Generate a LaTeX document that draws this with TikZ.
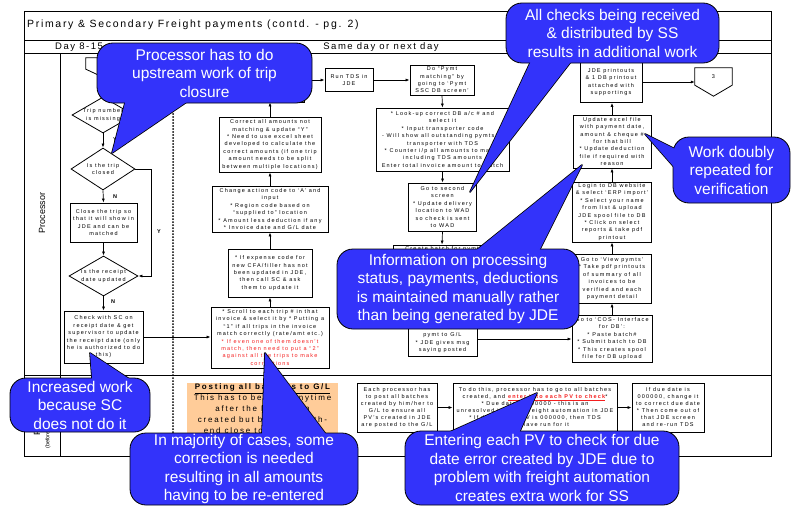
\documentclass[tikz,border=0pt]{standalone}
\usepackage{fontspec}
\setmainfont{Liberation Sans}
\newfontfamily\bxf[LetterSpace=22]{Liberation Sans}
\newfontfamily\ttlf[LetterSpace=16]{Liberation Sans}
\usetikzlibrary{arrows.meta,shapes.geometric,calc}
\definecolor{cblue}{RGB}{51,51,250}
\definecolor{peach}{RGB}{255,204,153}
\definecolor{warnred}{RGB}{245,30,30}

\begin{document}
\begin{tikzpicture}[x=1pt,y=-1pt,
  bx/.style={draw=black, line width=0.8pt, fill=white, inner sep=0pt},
  lbl/.style={align=center, inner sep=0pt, font=\bxf\fontsize{5.5}{7.4}\selectfont},
  lblb/.style={align=center, inner sep=0pt, font=\bxf\fontsize{5.5}{7}\selectfont},
  dia/.style={draw=black, line width=0.8pt, fill=white, diamond, inner sep=0pt},
  arr/.style={draw=black, line width=0.7pt, -{Latex[length=4pt,width=3pt]}},
  yn/.style={font=\bxf\bfseries\fontsize{5.5}{6}\selectfont, inner sep=0pt},
  lane/.style={draw=black, line width=0.9pt},
  cbox/.style={fill=cblue, draw=black, line width=0.8pt, rounded corners=16pt, inner sep=0pt},
  ctail/.style={fill=cblue, draw=black, line width=1.6pt, line join=round},
  ctext/.style={align=center, text=white, inner sep=0pt, font=\fontsize{15.5}{18.5}\selectfont}
]
\useasboundingbox (0,0) rectangle (792,506);
\fill[white] (0,0) rectangle (792,506);

% ---- frame and swim lanes ----
\draw[lane] (24,11) rectangle (771,456);
\draw[lane] (24,40) -- (771,40);
\draw[lane] (24,53) -- (771,53);
\draw[lane] (60,53) -- (60,456);
\draw[lane] (24,375) -- (771,375);
\draw[line width=2pt, line cap=round, dash pattern=on 0pt off 3pt] (173,54) -- (173,432);

\node[anchor=west, inner sep=0pt, font=\ttlf\fontsize{10.5}{12}\selectfont] (title) at (27,25)
  {Primary \& Secondary Freight payments (contd. - pg. 2)};
\node[anchor=west, inner sep=0pt, font=\ttlf\fontsize{9.5}{11}\selectfont] (day1) at (55,47) {Day 8-15};
\node[inner sep=0pt, font=\ttlf\fontsize{9.5}{11}\selectfont] (day2) at (381,47) {Same day or next day};

\node[rotate=90, inner sep=0pt, font=\fontsize{9}{10}\selectfont] (lane1) at (42,213) {Processor};
\node[rotate=90, inner sep=0pt, font=\fontsize{9}{10}\selectfont] (lane2) at (37,415) {Processor};
\node[rotate=90, inner sep=0pt, font=\fontsize{5.5}{6}\selectfont] (lane2b) at (48,418) {(before month-end close)};

% ---- left column: trip checks ----
\node[inner sep=0pt, minimum width=34, minimum height=11] (p2) at (103,63.5) {};
\draw[line width=0.8pt, fill=white] (p2.south west) -- (p2.north west) -- (p2.north east) -- (p2.south east) -- ($(p2.south)+(0,8)$) -- cycle;
\coordinate (p2tip) at ($(p2.south)+(0,8)$);

\node[dia, minimum width=62, minimum height=36, label={[lbl]center:{Trip number\\is missing}}] (d1) at (103,115) {};
\node[dia, minimum width=64, minimum height=42, label={[lbl]center:{Is the trip\\closed}}] (d2) at (103,169) {};
\node[bx, minimum width=67, minimum height=39, label={[lbl]center:{Close the trip so\\that it will show in\\JDE and can be\\matched}}] (b1) at (103.5,222.5) {};
\node[dia, minimum width=69, minimum height=40, label={[lbl]center:{Is the receipt\\date updated}}] (d3) at (103.5,276) {};
\node[bx, minimum width=79, minimum height=52, label={[lbl]center:{Check with SC on\\receipt date \& get\\supervisor to update\\the receipt date (only\\he is authorized to do\\this)}}] (b2) at (103.5,337) {};

\draw[arr] (p2tip) -- (d1.north);
\draw[arr] (d1.south) -- (d2.north);
\draw[arr] (d2.south) -- (b1.north);
\draw[arr] (d2.east) -- ++(16,0) |- (d3.east);
\draw[arr] (b1.south) -- (d3.north);
\draw[arr] (d3.south) -- (b2.north);
\node[yn] (y1) at (115,140) {Y};
\node[yn] (n1) at (115,197) {N};
\node[yn] (y2) at (159,232) {Y};
\node[yn] (n2) at (113,302) {N};

% ---- second column: invoice corrections ----
\node[bx, minimum width=118, minimum height=61, label={[lbl]center:{* Scroll to each trip \# in that\\invoice \& select it by * Putting a\\“1” if all trips in the invoice\\match correctly (rate/amt etc.)\\\textcolor{warnred}{* If even one of them doesn’t}\\\textcolor{warnred}{match, then need to put a “2”}\\\textcolor{warnred}{against all the trips to make}\\\textcolor{warnred}{corrections}}}] (s1) at (270,337.5) {};
\node[bx, minimum width=84, minimum height=48, label={[lbl]center:{* If expense code for\\new CFA/filler has not\\been updated in JDE,\\then call SC \& ask\\them to update it}}] (s2) at (270,273) {};
\node[bx, minimum width=116, minimum height=46, label={[lbl]center:{Change action code to ‘A’ and\\input\\* Region code based on\\“supplied to” location\\* Amount less deduction if any\\* Invoice date and G/L date}}] (s3) at (270,209) {};
\node[bx, minimum width=102, minimum height=55, label={[lbl]center:{Correct all amounts not\\matching \& update “Y”\\* Need to use excel sheet\\developed to calculate the\\correct amounts (if one trip\\amount needs to be split\\between multiple locations)}}] (s4) at (270,144.5) {};
\node[bx, minimum width=68, minimum height=44] (s5) at (270,80) {};

\draw[arr] (b2.east) -- (b2.east -| s1.west);
\draw[arr] (s1.north) -- (s2.south);
\draw[arr] (s2.north) -- (s3.south);
\draw[arr] (s3.north) -- (s4.south);
\draw[arr] (s4.north) -- (s5.south);

% ---- third column: payment matching ----
\node[bx, minimum width=48, minimum height=23, label={[lbl]center:{Run TDS in\\JDE}}] (t1) at (349,80) {};
\node[bx, minimum width=64, minimum height=30, label={[lbl]center:{Do “Pymt\\matching” by\\going to ‘Pymt\\SSC DB screen’}}] (t2) at (442,80) {};
\node[bx, minimum width=133, minimum height=63, label={[lbl]center:{* Look-up correct DB a/c \# and\\select it\\* Input transporter code\\- Will show all outstanding pymts to\\transporter with TDS\\* Counter i/p all amounts to match\\including TDS amounts\\Enter total invoice amount to match}}] (t3) at (442.5,139.5) {};
\node[bx, minimum width=68, minimum height=48, label={[lbl]center:{Go to second\\screen\\* Update delivery\\location to WAD\\so check is sent\\to WAD}}] (t4) at (442.5,207) {};
\node[bx, minimum width=98, minimum height=45, label={[lbl, anchor=north, yshift=-1.5pt]north:{Create batch for pymt}}] (t5) at (442,267.5) {};
\node[bx, minimum width=69, minimum height=34, label={[lbl]center:{* Post the batch of\\pymt to G/L\\* JDE gives msg\\saying posted}}] (t6) at (442.5,339) {};

\draw[arr] (s5.east) -- (s5.east -| t1.west);
\draw[arr] (t1.east) -- (t2.west);
\draw[arr] (t2.south) -- (t3.north);
\draw[arr] (t3.south) -- (t4.north);
\draw[arr] (t4.south) -- (t5.north);
\draw[arr] (t5.south) -- (t6.north);

% ---- fourth column: DB upload and verification ----
\node[bx, minimum width=80, minimum height=47, label={[lbl]center:{Go to ‘COS- Interface\\for DB’:\\* Paste batch\#\\* Submit batch to DB\\* This creates spool\\file for DB upload}}] (c1) at (612,338.5) {};
\node[bx, minimum width=78, minimum height=49, label={[lbl]center:{Go to ‘View pymts’\\* Take pdf printouts\\of summary of all\\invoices to be\\verified and each\\payment detail}}] (c2) at (612,278.5) {};
\node[bx, minimum width=79, minimum height=60, label={[lbl]center:{Login to DB website\\\& select ‘ERP import’\\* Select your name\\from list \& upload\\JDE spool file to DB\\* Click on select\\reports \& take pdf\\printout}}] (c3) at (612,212) {};
\node[bx, minimum width=78, minimum height=53, label={[lbl]center:{Update excel file\\with payment date,\\amount \& cheque \#\\for that bill\\* Update deduction\\file if required with\\reason}}] (c4) at (612,141.5) {};
\node[bx, minimum width=62, minimum height=41, label={[lbl]center:{JDE printouts\\\& 1 DB printout\\attached with\\supportings}}] (c5) at (611,82) {};
\node[inner sep=0pt, minimum width=37, minimum height=17, font=\bxf\fontsize{5.5}{6}\selectfont] (p3) at (713.5,76.5) {3};
\draw[line width=0.8pt] (p3.south west) -- (p3.north west) -- (p3.north east) -- (p3.south east) -- ($(p3.south)+(0,11)$) -- cycle;

\draw[arr] (t6.east) -- (t6.east -| c1.west);
\draw[arr] (c1.north) -- (c2.south);
\draw[arr] (c2.north) -- (c3.south);
\draw[arr] (c3.north) -- (c4.south);
\draw[arr] (c4.north) -- (c4.north |- c5.south);
\draw[arr] (c5.east) -- (c5.east -| p3.west);

% ---- lower lane: posting to G/L ----
\node[inner sep=0pt, fill=peach, minimum width=151, minimum height=62, label={[align=center, inner sep=0pt, anchor=north, yshift=-1pt, font=\bxf\fontsize{8}{11}\selectfont]north:{\textbf{\underline{Posting all batches to G/L}}\\This has to be done anytime\\after the PV’s been\\created but before month-\\end close to ensure it is}}] (o1) at (262.5,414) {};
\node[bx, minimum width=80, minimum height=49, label={[lblb]center:{Each processor has\\to post all batches\\created by him/her to\\G/L to ensure all\\PV’s created in JDE\\are posted to the G/L}}] (e1) at (397,407.5) {};
\node[bx, minimum width=164, minimum height=49, label={[lblb]center:{To do this, processor has to go to all batches\\created, and \textcolor{warnred}{\textbf{\underline{enter into each PV to check}}}*\\* Due date is 000000 - this is an\\unresolved issue of freight automation in JDE\\* If due date of PV is 000000, then TDS\\might have run for it}}] (e2) at (535,407.5) {};
\node[bx, minimum width=72, minimum height=49, label={[lblb]center:{If due date is\\000000, change it\\to correct due date\\* Then come out of\\that JDE screen\\and re-run TDS}}] (e3) at (668,407.5) {};
\draw[arr] (e1.east) -- (e2.west);
\draw[arr] (e2.east) -- (e3.west);

% ---- callouts ----
% upstream trip closure
\draw[ctail] (127,95) -- (112,153) -- (197,95) -- cycle;
\node[cbox, minimum width=215, minimum height=60] (k1) at (204.5,73) {};
\fill[cblue] (127,95) -- (112,153) -- (197,95) -- cycle;
\node[ctext] (k1t) at (k1.center) {Processor has to do\\upstream work of trip\\closure};

% cheque handling
\draw[ctail] (533.7,55) -- (470,192) -- (576.2,55) -- cycle;
\node[cbox, minimum width=213, minimum height=60] (k2) at (612.5,33) {};
\fill[cblue] (533.7,55) -- (470,192) -- (576.2,55) -- cycle;
\node[ctext] (k2t) at (k2.center) {All checks being received\\\& distributed by SS\\results in additional work};

% double verification
\draw[ctail] (681,152) -- (645,134) -- (681,175) -- cycle;
\node[cbox, minimum width=117, minimum height=66] (k3) at (731.5,170) {};
\fill[cblue] (681,152) -- (645,134) -- (681,175) -- cycle;
\node[ctext] (k3t) at (k3.center) {Work doubly\\repeated for\\verification};

% manual status tracking
\draw[ctail] (468,257) -- (582,165) -- (536,257) -- cycle;
\node[cbox, minimum width=242, minimum height=80] (k4) at (458,289) {};
\fill[cblue] (468,257) -- (582,165) -- (536,257) -- cycle;
\node[ctext] (k4t) at (k4.center) {Information on processing\\status, payments, deductions\\is maintained manually rather\\than being generated by JDE};

% receipt date check
\draw[ctail] (92.6,386) -- (90,353) -- (140,386) -- cycle;
\node[cbox, minimum width=140, minimum height=54] (k5) at (80,405) {};
\fill[cblue] (92.6,386) -- (90,353) -- (140,386) -- cycle;
\node[ctext] (k5t) at (k5.center) {Increased work\\because SC\\does not do it};

% re-entry of amounts
\draw[ctail] (261.7,441) -- (265,353) -- (331,441) -- cycle;
\node[cbox, minimum width=228, minimum height=72] (k6) at (244,469) {};
\fill[cblue] (261.7,441) -- (265,353) -- (331,441) -- cycle;
\node[ctext] (k6t) at (k6.center) {In majority of cases, some\\correction is needed\\resulting in all amounts\\having to be re-entered};

% due date error check
\draw[ctail] (434,439) -- (537,393) -- (516.4,439) -- cycle;
\node[cbox, minimum width=274, minimum height=74] (k7) at (542,468) {};
\fill[cblue] (434,439) -- (537,393) -- (516.4,439) -- cycle;
\node[ctext] (k7t) at (k7.center) {Entering each PV to check for due\\date error created by JDE due to\\problem with freight automation\\creates extra work for SS};

\end{tikzpicture}
\end{document}
